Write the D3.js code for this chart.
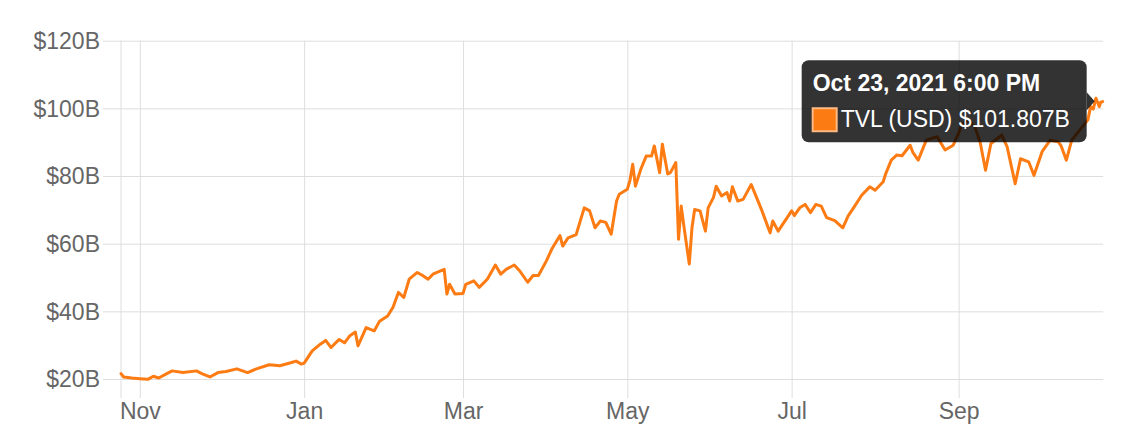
<!DOCTYPE html>
<html>
<head>
<meta charset="utf-8">
<script src="https://cdn.jsdelivr.net/npm/d3@7"></script>
<style>
  html, body { margin: 0; padding: 0; background: #fff; }
  svg { display: block; font-family: "Liberation Sans", Arial, Helvetica, sans-serif; }
</style>
</head>
<body>
<svg id="chart" width="1122" height="440"></svg>
<script>
// ---- data ----
const dates = [
  "2020-10-25","2020-10-26","2020-10-29","2020-11-01","2020-11-04","2020-11-06","2020-11-08","2020-11-11",
  "2020-11-13","2020-11-17","2020-11-22","2020-11-24","2020-11-27","2020-11-30","2020-12-03","2020-12-07",
  "2020-12-11","2020-12-14","2020-12-19","2020-12-23","2020-12-27","2020-12-29","2020-12-31","2021-01-01",
  "2021-01-04","2021-01-07","2021-01-09","2021-01-11","2021-01-14","2021-01-16","2021-01-18","2021-01-20",
  "2021-01-21","2021-01-24","2021-01-27","2021-01-29","2021-02-01","2021-02-03","2021-02-05","2021-02-07",
  "2021-02-09","2021-02-12","2021-02-14","2021-02-16","2021-02-18","2021-02-22","2021-02-23","2021-02-24",
  "2021-02-26","2021-03-01","2021-03-02","2021-03-05","2021-03-07","2021-03-10","2021-03-13","2021-03-15",
  "2021-03-17","2021-03-20","2021-03-22","2021-03-25","2021-03-27","2021-03-29","2021-04-01","2021-04-03",
  "2021-04-06","2021-04-07","2021-04-09","2021-04-12","2021-04-15","2021-04-17","2021-04-19","2021-04-21",
  "2021-04-23","2021-04-25","2021-04-27","2021-04-28","2021-05-01","2021-05-02","2021-05-03","2021-05-04",
  "2021-05-06","2021-05-08","2021-05-10","2021-05-11","2021-05-13","2021-05-14","2021-05-16","2021-05-17",
  "2021-05-19","2021-05-20","2021-05-21","2021-05-22","2021-05-24","2021-05-25","2021-05-26","2021-05-28",
  "2021-05-30","2021-05-31","2021-06-02","2021-06-03","2021-06-05","2021-06-07","2021-06-08","2021-06-09",
  "2021-06-11","2021-06-13","2021-06-16","2021-06-18","2021-06-20","2021-06-23","2021-06-24","2021-06-26",
  "2021-07-01","2021-07-02","2021-07-04","2021-07-06","2021-07-08","2021-07-10","2021-07-12","2021-07-14",
  "2021-07-17","2021-07-20","2021-07-22","2021-07-24","2021-07-27","2021-07-30","2021-08-01","2021-08-04",
  "2021-08-05","2021-08-07","2021-08-09","2021-08-11","2021-08-14","2021-08-15","2021-08-17","2021-08-20",
  "2021-08-24","2021-08-27","2021-08-30","2021-09-01","2021-09-02","2021-09-04","2021-09-07","2021-09-09",
  "2021-09-11","2021-09-13","2021-09-17","2021-09-19","2021-09-22","2021-09-24","2021-09-27","2021-09-29",
  "2021-10-02","2021-10-05","2021-10-08","2021-10-09","2021-10-11","2021-10-13","2021-10-17","2021-10-19",
  "2021-10-20","2021-10-21","2021-10-22","2021-10-23 06:00","2021-10-23 18:00","2021-10-24 12:00"
];
const tvl = [
  21.6,20.6,20.3,20.1,19.9,20.8,20.3,21.6,
  22.4,21.9,22.4,21.6,20.6,21.9,22.2,23.0,
  21.9,22.9,24.2,23.9,24.8,25.3,24.4,24.7,
  28.3,30.3,31.4,29.3,31.7,30.7,32.8,33.9,
  29.8,35.2,34.2,37.1,38.6,41.2,45.6,44.1,
  49.5,51.5,50.6,49.5,51.1,52.4,45.1,48.0,
  45.1,45.3,48.0,49.0,47.1,49.5,53.7,51.0,
  52.4,53.7,52.0,48.6,50.6,50.6,55.0,58.5,
  62.4,59.3,61.7,62.7,70.6,69.7,64.7,66.7,
  66.3,62.8,72.6,74.6,76.1,78.8,83.5,77.0,
  82.0,85.9,85.9,88.9,81.0,89.4,80.6,81.0,
  84.0,61.3,71.1,65.2,54.0,64.7,70.1,69.7,
  63.7,70.6,73.7,77.0,74.1,75.1,72.6,76.8,
  72.6,73.1,77.5,73.6,69.7,63.2,66.7,63.7,
  69.7,68.3,70.6,71.6,69.2,71.6,71.1,67.7,
  66.8,64.7,68.2,70.6,74.3,76.8,75.8,78.3,
  80.8,84.7,86.2,86.0,89.1,87.0,84.7,90.6,
  91.6,87.7,89.1,92.6,95.0,96.6,94.6,90.0,
  81.7,89.6,92.1,88.7,77.7,85.1,84.2,80.2,
  87.2,90.6,90.1,89.0,84.7,90.6,94.6,96.6,
  100.5,99.8,103.0,100.5,101.807,102.0
];
const yTicks = [20, 40, 60, 80, 100, 120];
const seriesName = "TVL (USD)";
const tooltipTitle = "Oct 23, 2021 6:00 PM";
const hoverIndex = 164;

(function () {
  // ---- layout ----
  const parse = s => (s.length > 10 ? d3.timeParse("%Y-%m-%d %H:%M")(s) : d3.timeParse("%Y-%m-%d")(s));
  const data = dates.map((d, i) => ({ date: parse(d), value: tvl[i] }));

  const pL = 121, pR = 1102.7, pT = 40.7, pB = 379;
  const tickLen = 18;
  const fontSize = 23;
  const orange = "#fd7b13";

  const svg = d3.select("#chart");
  const x = d3.scaleTime().domain(d3.extent(data, d => d.date)).range([pL, pR]);
  const y = d3.scaleLinear().domain([20, 120]).range([pB, pT]);

  // y axis with gridlines
  const yAxis = d3.axisLeft(y)
    .tickValues(yTicks)
    .tickSize(-(pR - pL) - tickLen)
    .tickPadding(3)
    .tickFormat(d => "$" + d + "B");
  const gy = svg.append("g").attr("transform", `translate(${pL - tickLen},0)`).call(yAxis);
  gy.select(".domain").remove();
  gy.selectAll(".tick line").attr("stroke", "#dedede").attr("stroke-width", 1)
    .attr("x1", 0).attr("x2", pR - pL + tickLen + 0.5);
  gy.selectAll(".tick text").attr("fill", "#666").attr("font-size", fontSize)
    .attr("x", -3).attr("dy", "0.34em");

  // x axis with gridlines
  const xAxis = d3.axisBottom(x)
    .ticks(d3.timeMonth.every(2))
    .tickFormat(d3.timeFormat("%b"))
    .tickSize(-(pB - pT))
    .tickPadding(0);
  const gx = svg.append("g").attr("transform", `translate(0,${pB})`).call(xAxis);
  gx.select(".domain").remove();
  gx.selectAll(".tick line").attr("stroke", "#dedede").attr("stroke-width", 1)
    .attr("y1", tickLen + 1).attr("y2", -(pB - pT));
  gx.selectAll(".tick text").attr("fill", "#666").attr("font-size", fontSize)
    .attr("y", 24).attr("dy", "0.71em");

  // left axis line
  svg.append("line")
    .attr("x1", pL).attr("x2", pL)
    .attr("y1", pT).attr("y2", pB + tickLen + 1)
    .attr("stroke", "#dedede").attr("stroke-width", 1);

  // series line
  const line = d3.line().x(d => x(d.date)).y(d => y(d.value)).curve(d3.curveLinear);
  svg.append("path")
    .datum(data)
    .attr("fill", "none")
    .attr("stroke", orange)
    .attr("stroke-width", 3)
    .attr("stroke-linejoin", "round")
    .attr("stroke-linecap", "round")
    .attr("d", line);

  // tooltip
  const hp = data[hoverIndex];
  const px = x(hp.date), py = y(hp.value);
  const boxRight = px - 14, boxLeft = boxRight - 285;
  const boxTop = py - 42, boxH = 82;
  const tip = svg.append("g");
  const tipFill = "rgba(0,0,0,0.8)";
  tip.append("rect")
    .attr("x", boxLeft).attr("y", boxTop)
    .attr("width", boxRight - boxLeft).attr("height", boxH)
    .attr("rx", 7).attr("ry", 7)
    .attr("fill", tipFill);
  tip.append("path")
    .attr("d", `M${boxRight},${py - 10} L${boxRight + 8},${py - 1} L${boxRight},${py + 8} Z`)
    .attr("fill", tipFill);
  tip.append("text")
    .attr("x", boxLeft + 11).attr("y", boxTop + 31)
    .attr("fill", "#fff").attr("font-size", 23).attr("font-weight", "bold")
    .text(tooltipTitle);
  tip.append("rect")
    .attr("x", boxLeft + 11).attr("y", boxTop + 48)
    .attr("width", 24).attr("height", 23)
    .attr("fill", orange).attr("stroke", "#ffb983").attr("stroke-width", 2);
  tip.append("text")
    .attr("x", boxLeft + 39).attr("y", boxTop + 67)
    .attr("fill", "#fff").attr("font-size", 23)
    .text(seriesName + " $" + d3.format(".3f")(hp.value) + "B");
})();
</script>
</body>
</html>
